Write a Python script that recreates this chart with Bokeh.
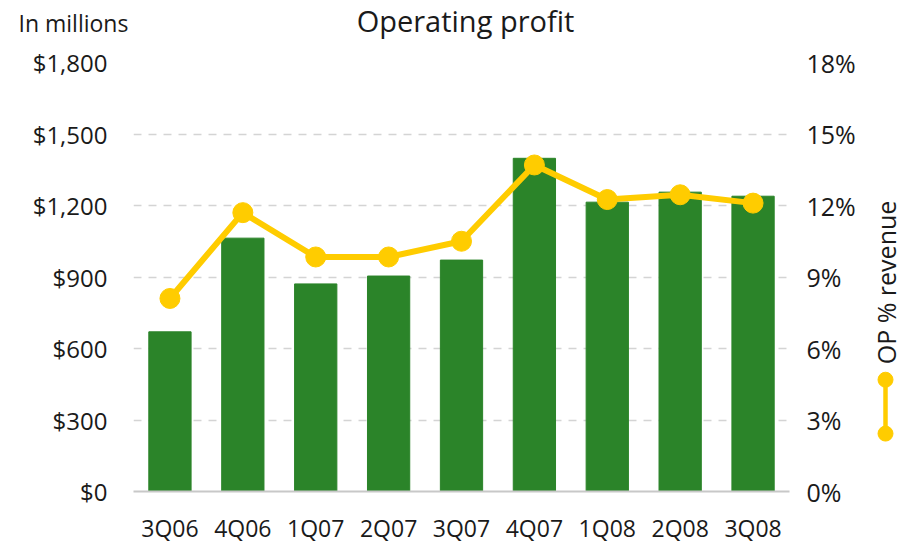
import math
from bokeh.plotting import figure
from bokeh.models import (FactorRange, Range1d, LinearAxis, FixedTicker,
                          NumeralTickFormatter, PrintfTickFormatter, Label)
from bokeh.core.properties import value
from bokeh.layouts import row, column
from bokeh.embed import file_html
from bokeh.resources import INLINE

# ---- data ----
quarters = ["3Q06", "4Q06", "1Q07", "2Q07", "3Q07", "4Q07", "1Q08", "2Q08", "3Q08"]
operating_profit = [670, 1063, 871, 904, 971, 1398, 1214, 1256, 1239]   # $ millions
op_pct_revenue = [8.1, 11.7, 9.84, 9.84, 10.5, 13.7, 12.25, 12.45, 12.1]  # %
left_ticks = [0, 300, 600, 900, 1200, 1500, 1800]
right_ticks = [0, 3, 6, 9, 12, 15, 18]
legend_span = [4.69, 2.43]  # legend swatch ends (in % axis units)
title_text = "Operating profit"
unit_text = "In millions"
series_name = "OP % revenue"

FONT = "Open Sans"
GREEN = "#2b8429"
YELLOW = "#ffcc00"
GRID = "#d4d4d4"
TXT = "#1a1a1a"

HEAD_H = 44
MAIN_H = 502
TOP_B = 18
BOT_B = 54

# ---- header with title and unit note ----
head = figure(x_range=Range1d(0, 909), y_range=Range1d(0, HEAD_H), width=909, height=HEAD_H,
              output_backend="svg", toolbar_location=None,
              min_border_left=0, min_border_right=0, min_border_top=0, min_border_bottom=0,
              x_axis_location=None, y_axis_location=None)
head.outline_line_color = None
head.grid.grid_line_color = None
head.text(x=[18], y=[HEAD_H - 22], text=[unit_text], text_font=value(FONT), text_font_size="23px",
          text_color=TXT, text_baseline="middle", text_align="left")
head.text(x=[465], y=[HEAD_H - 0.5], text=[title_text], text_font=value(FONT), text_font_size="29px",
          text_color=TXT, text_baseline="top", text_align="center")

# ---- main chart ----
p = figure(x_range=FactorRange(factors=quarters), y_range=Range1d(0, 1800),
           width=868, height=MAIN_H, output_backend="svg", toolbar_location=None,
           min_border_left=133, min_border_right=79, min_border_top=TOP_B,
           min_border_bottom=BOT_B, y_axis_location=None)
p.outline_line_color = None
p.extra_y_ranges = {"pct": Range1d(0, 18)}

p.vbar(x=quarters, top=operating_profit, width=0.58, color=GREEN)
p.line(x=quarters, y=op_pct_revenue, y_range_name="pct", color=YELLOW, line_width=6)
p.scatter(x=quarters, y=op_pct_revenue, y_range_name="pct", color=YELLOW, size=20)

la = LinearAxis(ticker=FixedTicker(ticks=left_ticks),
                formatter=NumeralTickFormatter(format="$0,0"))
ra = LinearAxis(y_range_name="pct", ticker=FixedTicker(ticks=right_ticks),
                formatter=PrintfTickFormatter(format="%d%%"))
for ax, st, fs in ((la, 26, "24px"), (ra, 17, "25px")):
    ax.axis_line_color = None
    ax.major_tick_line_color = None
    ax.minor_tick_line_color = None
    ax.major_tick_out = 0
    ax.minor_tick_out = 0
    ax.axis_label_standoff = 0
    ax.major_label_text_font = FONT
    ax.major_label_text_font_size = fs
    ax.major_label_text_color = TXT
    ax.major_label_standoff = st
p.add_layout(la, "left")
p.add_layout(ra, "right")

xa = p.xaxis[0]
xa.axis_line_color = "#c8c8c8"
xa.axis_line_width = 2
xa.major_tick_line_color = None
xa.minor_tick_line_color = None
xa.major_tick_out = 0
xa.minor_tick_out = 0
xa.axis_label_standoff = 0
xa.major_label_text_font = FONT
xa.major_label_text_font_size = "23px"
xa.major_label_text_color = TXT
xa.major_label_standoff = 20

p.xgrid.grid_line_color = None
p.ygrid.grid_line_color = GRID
p.ygrid.grid_line_width = 1.5
p.ygrid.grid_line_dash = "8 7"
p.ygrid.ticker = FixedTicker(ticks=left_ticks)

# ---- narrow legend panel on the right ----
q = figure(x_range=Range1d(0, 41), y_range=Range1d(0, 18), width=41, height=MAIN_H,
           output_backend="svg", toolbar_location=None,
           min_border_left=0, min_border_right=0, min_border_top=TOP_B, min_border_bottom=BOT_B,
           x_axis_location=None, y_axis_location=None)
q.outline_line_color = None
q.grid.grid_line_color = None
q.segment(x0=[17], y0=[legend_span[0]], x1=[17], y1=[legend_span[1]], color=YELLOW, line_width=4.5)
q.scatter(x=[17, 17], y=legend_span, color=YELLOW, size=15)
q.add_layout(Label(x=17, y=8.77, text=series_name, angle=math.pi / 2,
                   text_font=FONT, text_font_size="25px", text_color=TXT,
                   text_baseline="middle", text_align="center"))

layout = column(head, row(p, q))
open("out.html", "w").write(file_html(layout, INLINE))
